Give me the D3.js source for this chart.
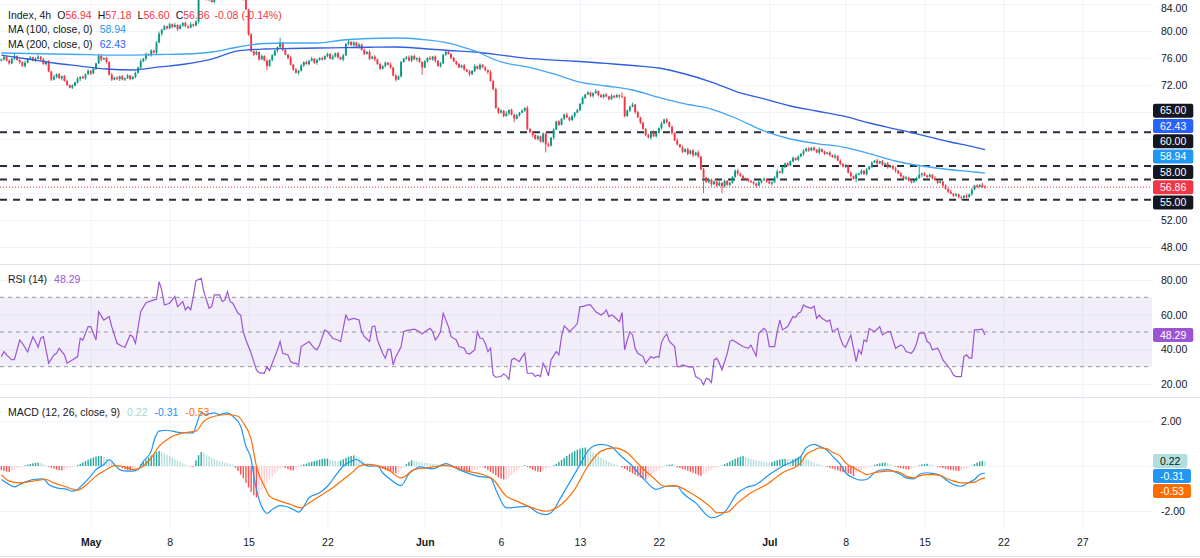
<!DOCTYPE html>
<html>
<head>
<meta charset="utf-8">
<script src="https://cdn.jsdelivr.net/npm/d3@7"></script>
<style>
  body { margin: 0; background: #fff; overflow: hidden; }
  svg { display: block; font-family: "Liberation Sans", Arial, sans-serif; }
</style>
</head>
<body>
<svg width="1200" height="558"></svg>
<script>
// ---- data (4h bars, index 0 = first bar on screen) ----
const firstOpen = 75.6;
const closeRuns = [
  [0,   [75.8,76.2,75.6,75.2,75.9,76.3,75.7,75.4,74.8,75.3,75.9,76.1,75.6,75.9,76.2,75.8,75.1,75.5]],
  [18,  [74.0,72.8,73.2,73.6,73.0,73.3,72.6,72.0,71.6,71.9,72.4,72.9,73.2,73.0,73.6,74.1,73.7]],
  [35,  [74.4,75.2,76.3,75.8,76.0,75.4,73.5,72.8,73.1,72.9,73.3,72.8,73.0,73.4,72.9,73.2]],
  [51,  [73.8,74.6,75.5,75.9,76.6,76.4,77.1,76.8,78.3,79.6]],
  [61,  [80.2,80.7,80.4,81.0,80.6,80.9,80.3,80.8,81.2,80.7,80.5,81.0,80.8,81.4]],
  [75,  [85.2,85.8,85.5,84.6,84.9,84.3,85.1,85.9,86.4,86.0,86.8,86.3,85.7,86.2,85.5,85.0,84.7,84.9,83.2]],
  [94,  [79.5,77.0,76.5,76.9,75.8,76.3,75.6,74.8,75.7,76.4,77.1,77.6,78.3]],
  [107, [77.2,76.5,76.0,75.0,74.3,73.8,74.1,74.9,75.4,75.1,75.6,75.9,75.3,75.7,76.0]],
  [122, [75.8,76.3,76.6,75.9,76.2,76.7,76.1,75.8,76.4,78.1,78.4,77.9,78.3,77.7,78.0,77.2,76.6,76.9,75.9]],
  [141, [76.2,75.8,75.1,74.4,74.8,75.3,75.0,74.6,73.4,72.8,73.3,75.4]],
  [153, [75.9,76.1,75.6,76.3,75.8,76.0,75.4,74.6,75.5,76.0,75.8,76.2,75.6,74.8,75.2,76.5,76.9,76.6,76.0,75.5,
         75.1,74.6,74.9,74.3,74.0,73.6,74.1,74.8,74.4,75.0,74.6,74.2,73.9,72.6,71.4]],
  [188, [68.6,67.9,68.2,67.4,67.8,68.3,67.6,67.0,67.5,67.9,68.2,68.6,65.5,65.0,64.6,64.0,64.4,63.6,64.8,63.2,63.0]],
  [209, [64.2,65.4,66.6,66.1,67.0,67.6,67.2,66.8,67.4,67.9,68.3,69.2,70.1,70.6]],
  [223, [70.9,70.4,70.8,71.1,70.5,70.2,70.6,70.3,69.9,70.4,70.2,70.5,70.3,70.2,67.4]],
  [238, [68.2,68.8,69.1,68.0,67.2,66.4]],
  [244, [65.5,64.6,64.2,65.0,64.4,64.9,65.6]],
  [251, [66.3,66.9,66.5,65.8]],
  [255, [64.9,63.8,63.2,62.8]],
  [259, [62.1,62.5,61.8,62.3,61.6,62.0,61.4]],
  [266, [59.5,58.3,57.6,58.0,57.3,57.7,57.1]],
  [273, [57.5,57.0,57.8,57.2,57.5]],
  [278, [58.4,59.3,58.9,58.5,58.2]],
  [283, [58.0,57.8,57.6,57.4,57.1,57.6,57.9,58.1,57.7,57.4,57.6]],
  [294, [58.3,59.2,59.0,59.8,60.4,60.1,60.7,61.2,60.9,61.4]],
  [304, [61.8,62.2,62.6,62.3,62.7,62.4,62.0,62.5]],
  [312, [62.1,61.8,62.0,61.6,61.3,61.5]],
  [318, [60.8,60.3,59.9,60.1]],
  [322, [59.0,58.5,58.1,58.7]],
  [326, [58.9,59.3,58.8,59.5,59.9]],
  [331, [60.5,60.8,60.4,60.7]],
  [335, [60.2,60.4,59.8,60.0,59.6,59.3]],
  [341, [58.9,58.5,58.1,58.3,57.8,57.6]],
  [347, [57.9,58.2,58.7]],
  [350, [58.9,58.6,58.4,58.7,58.2]],
  [355, [57.9,57.5,57.7,57.1]],
  [359, [56.6,56.2,55.9,55.6,55.8,55.4]],
  [365, [55.3,55.6,55.4,55.8]],
  [369, [56.5,57.1,56.9,57.2,56.94,56.86]]
];
// wick lengths above/below the body, tenths of a point, one base-36 char per bar
const wickHi = [
  "12121 41213 12123 12121 31212", "21213 12121 21321 21312 12121", "12131 21212 31212 13121 21312",
  "21312 12121 31212 12131 21212", "12121 17121 31212 12131 21212", "13121 21312 12121 31212 12131",
  "21212 31212 12131 21212 31212", "12121 31212 13121 21312 12121", "31212 12131 21212 31212 12121",
  "13121 21312 16121 31212 12131", "13121 21312 12121 31212 12131", "21212 31212 12131 21212 31212",
  "12121 31212 13121 21312 12121", "31212 12131 21212 31212 1212f", "12121 31212 13121 21312 12132"
];
const wickLo = [
  "12121 21312 12121 31212 12131", "21212 31212 12131 21212 31212", "12121 31212 13121 21312 12121",
  "31212 12131 21212 31212 12121", "16121 31212 12131 21212 31212", "12121 31212 13121 21312 12121",
  "31212 12131 b1212 31212 12121", "12131 21212 31212 12131 51212", "21312 12c21 31212 12131 21212",
  "31212 12121 31212 13121 21312", "12121 31212 12131 21n12 3121a", "21212 31212 12312 12131 21212",
  "12121 31212 13121 21312 12121", "51212 12131 21212 31212 12121", "31212 12131 21212 31212 12123"
];
const lastBar = { o: 56.94, h: 57.18, l: 56.60, c: 56.86, chg: -0.08, pct: -0.14 };

// moving averages, one value every 10 bars plus the last bar
const maBars = d3.range(0, 371, 10).concat([374]);
const ma100 = [76.74,76.67,76.59,76.52,76.44,76.44,76.52,76.59,76.89,77.63,78.15,78.22,78.22,78.67,78.89,78.96,
  78.74,78.22,77.04,75.41,74.67,73.63,72.44,71.85,71.26,70.15,69.19,68.44,66.96,65.19,64.00,63.33,62.81,61.85,
  60.74,60.00,59.48,59.11,58.94];
const ma200 = [76.44,75.85,75.26,74.81,74.37,74.22,74.67,75.11,75.85,77.04,77.33,77.41,77.48,77.53,77.59,77.63,
  77.41,77.11,76.89,76.44,75.93,75.70,75.48,75.19,74.89,74.52,73.63,72.44,70.96,69.93,68.89,68.15,67.41,66.37,
  65.48,64.59,63.63,62.81,62.43];

const priceLevels = [65, 60, 58, 55];

// RSI (14): [bar, value]
const rsiPts = [[0,35.8],[1,38.7],[2,36.8],[4,33.9],[5,34.3],[6,39.7],[7,45.4],[8,43.5],[10,38.5],[12,47.3],[13,44.5],
  [14,41.2],[15,46.4],[16,47.3],[17,39.7],[18,32.0],[20,36.8],[21,37.7],[22,40.6],[24,36.8],[25,32.0],[27,33.9],
  [29,35.8],[30,46.4],[31,45.4],[33,53.1],[34,53.1],[36,45.4],[37,61.7],[39,56.9],[41,58.9],[42,53.1],[44,43.5],
  [46,41.6],[47,41.2],[49,48.3],[50,47.3],[51,43.5],[53,61.7],[55,66.9],[58,68.5],[59,68.9],[60,79.0],[61,74.2],
  [62,65.6],[64,66.6],[66,70.4],[67,64.6],[69,67.5],[70,62.7],[71,64.6],[72,62.7],[73,70.4],[74,79.6],[76,81.0],
  [77,73.3],[79,63.7],[80,64.6],[81,71.4],[83,71.4],[84,67.5],[85,68.5],[86,73.3],[87,67.5],[88,66.6],[90,60.8],
  [91,59.8],[92,50.2],[93,45.4],[95,37.7],[96,32.9],[97,28.1],[98,26.6],[100,26.2],[101,30.0],[102,27.7],[103,32.0],
  [105,39.7],[106,44.5],[107,37.7],[109,36.8],[110,32.9],[111,32.0],[112,32.0],[113,31.0],[114,41.6],[116,43.5],
  [117,44.5],[119,40.6],[120,39.7],[121,42.5],[123,51.2],[124,50.2],[126,46.4],[128,45.4],[129,44.5],[131,59.8],
  [132,56.9],[134,57.9],[136,56.9],[137,50.2],[138,47.3],[140,44.5],[141,53.1],[142,53.5],[143,45.4],[145,37.7],
  [146,34.9],[147,40.0],[148,40.0],[149,31.0],[150,35.8],[152,41.5],[153,50.2],[154,50.8],[157,51.6],[159,50.2],
  [160,48.9],[161,50.2],[163,52.1],[164,50.2],[165,45.4],[166,47.3],[167,50.2],[168,60.8],[170,53.1],[171,47.3],
  [173,45.4],[174,41.6],[176,40.6],[177,37.7],[178,37.3],[180,39.7],[181,50.2],[182,46.4],[183,46.4],[184,43.5],
  [185,38.7],[186,40.6],[187,25.2],[188,23.9],[190,24.3],[191,25.8],[192,24.7],[193,22.7],[194,33.9],[195,34.9],
  [197,32.9],[198,35.8],[199,37.7],[200,26.2],[202,26.2],[203,24.3],[204,25.2],[205,24.3],[206,32.0],[207,29.1],
  [208,24.7],[209,33.9],[211,38.7],[212,36.8],[213,47.3],[214,53.5],[215,52.1],[216,50.2],[218,53.1],[219,55.0],
  [220,64.6],[221,64.6],[223,65.6],[224,65.6],[225,63.7],[226,61.7],[228,59.8],[229,60.8],[230,62.7],[231,58.9],
  [232,59.8],[233,58.9],[235,56.0],[236,61.2],[237,39.7],[238,45.4],[239,50.2],[240,48.3],[241,40.6],[242,37.7],
  [244,35.8],[245,32.0],[246,33.9],[247,35.8],[248,34.9],[249,35.8],[250,35.4],[251,43.9],[252,47.0],[253,48.9],
  [254,44.5],[256,41.6],[257,30.0],[258,30.0],[259,31.0],[261,30.0],[262,29.7],[263,30.0],[264,24.3],[266,22.4],
  [267,19.5],[268,23.3],[269,22.7],[270,20.8],[271,33.9],[272,34.9],[273,32.0],[274,28.1],[276,37.7],[277,44.5],
  [278,45.4],[280,43.5],[281,42.5],[282,41.6],[284,40.6],[285,42.5],[287,36.2],[288,49.3],[290,52.1],[291,50.2],
  [292,41.6],[294,41.6],[295,50.2],[296,56.9],[297,51.2],[299,53.1],[300,56.0],[301,58.9],[302,58.5],[303,60.8],
  [304,61.7],[305,65.6],[306,64.6],[308,63.7],[309,65.0],[310,57.9],[311,59.8],[312,57.9],[314,56.0],[315,56.9],
  [316,50.2],[318,52.1],[319,46.4],[320,42.5],[321,41.2],[323,48.3],[324,40.6],[325,32.9],[326,39.7],[327,37.3],
  [328,45.4],[329,44.5],[330,52.1],[332,50.2],[334,53.1],[335,48.3],[337,50.2],[338,50.2],[339,45.4],[340,40.6],
  [342,42.5],[343,41.6],[344,38.7],[346,37.7],[347,39.7],[348,43.5],[349,49.3],[351,49.3],[352,44.5],[353,43.5],
  [354,39.7],[356,40.6],[357,37.7],[358,33.9],[359,32.0],[361,28.1],[362,25.2],[363,24.3],[365,24.3],[366,35.8],
  [367,36.8],[368,34.9],[369,34.9],[370,51.2],[371,51.2],[373,51.6],[374,48.29]];

// MACD (12, 26, close, 9)
const macdPts = [[0,-0.60],[2,-0.75],[5,-0.93],[7,-0.82],[10,-0.67],[12,-0.60],[16,-0.57],[18,-0.82],[21,-0.97],
  [25,-1.04],[27,-1.12],[29,-1.04],[31,-0.82],[34,-0.45],[36,-0.16],[39,0.07],[41,0.29],[43,0.07],[45,-0.16],
  [48,-0.23],[50,-0.23],[52,-0.16],[54,0.21],[57,0.66],[58,1.10],[60,1.55],[63,1.59],[65,1.55],[69,1.47],[73,1.47],
  [74,1.77],[76,2.36],[78,2.29],[81,2.36],[83,2.29],[86,2.36],[88,2.21],[91,1.77],[93,0.88],[95,0.29],[96,-0.45],
  [98,-1.49],[100,-2.01],[101,-2.11],[103,-1.93],[106,-1.76],[108,-1.79],[111,-1.93],[113,-2.05],[115,-1.79],
  [117,-1.41],[121,-1.19],[124,-0.90],[126,-0.60],[130,-0.01],[133,0.21],[135,0.29],[138,0.07],[140,-0.01],
  [143,0.02],[145,-0.30],[148,-0.60],[152,-0.87],[155,-0.35],[157,-0.16],[159,-0.04],[164,-0.13],[169,0.11],
  [174,-0.16],[181,-0.45],[186,-0.53],[188,-1.04],[192,-1.86],[200,-1.79],[204,-2.08],[207,-2.16],[210,-1.96],
  [212,-1.55],[215,-0.95],[218,-0.35],[220,0.05],[223,0.66],[225,0.88],[228,0.96],[232,0.85],[235,0.51],[240,-0.01],
  [245,-0.67],[249,-1.04],[253,-0.90],[257,-0.90],[259,-1.19],[264,-1.64],[270,-2.30],[275,-2.05],[280,-1.19],
  [283,-0.97],[287,-0.82],[292,-0.38],[297,-0.01],[304,0.44],[306,0.81],[309,0.96],[311,0.88],[314,0.70],[316,0.44],
  [319,0.07],[321,-0.30],[324,-0.53],[327,-0.63],[329,-0.60],[332,-0.30],[334,-0.19],[337,-0.16],[339,-0.23],
  [342,-0.38],[344,-0.53],[347,-0.57],[349,-0.38],[352,-0.30],[354,-0.33],[357,-0.42],[359,-0.60],[362,-0.82],
  [365,-0.90],[367,-0.78],[370,-0.60],[372,-0.38],[374,-0.31]];
const signalPts = [[0,-0.38],[3,-0.67],[7,-0.75],[12,-0.67],[17,-0.60],[20,-0.75],[24,-0.90],[29,-1.07],[32,-0.87],
  [36,-0.45],[40,-0.16],[43,0.02],[46,-0.01],[50,-0.16],[53,-0.08],[57,0.36],[60,0.88],[64,1.25],[69,1.47],[74,1.55],
  [77,1.99],[81,2.21],[86,2.29],[90,2.21],[92,1.92],[95,1.18],[97,-0.01],[100,-0.90],[102,-1.34],[106,-1.56],
  [110,-1.71],[114,-1.86],[117,-1.64],[121,-1.34],[126,-0.97],[130,-0.60],[134,-0.23],[136,-0.01],[139,0.07],
  [143,0.02],[147,-0.16],[152,-0.53],[157,-0.16],[162,-0.08],[169,0.02],[177,-0.23],[183,-0.38],[187,-0.60],
  [192,-1.34],[196,-1.56],[202,-1.86],[207,-2.01],[212,-1.79],[218,-1.04],[223,-0.01],[228,0.66],[233,0.81],
  [238,0.59],[243,-0.01],[248,-0.53],[252,-0.90],[256,-0.87],[261,-1.12],[266,-1.49],[270,-1.86],[272,-2.08],
  [276,-2.05],[280,-1.64],[285,-1.19],[291,-0.82],[297,-0.30],[304,0.14],[306,0.51],[309,0.70],[311,0.81],
  [314,0.76],[316,0.61],[319,0.44],[321,0.14],[324,-0.08],[327,-0.27],[329,-0.38],[332,-0.30],[334,-0.26],
  [337,-0.23],[339,-0.23],[342,-0.30],[344,-0.45],[347,-0.53],[349,-0.45],[352,-0.38],[354,-0.38],[357,-0.42],
  [359,-0.53],[362,-0.67],[365,-0.75],[367,-0.75],[370,-0.72],[372,-0.60],[374,-0.53]];
const histRuns = [
  [0,   [-0.18,-0.22,-0.25,-0.27,-0.22,-0.16,-0.10,-0.05,-0.02]],
  [9,   [0.03,0.06,0.09,0.12,0.14,0.15,0.12,0.08,0.04]],
  [18,  [-0.03,-0.08,-0.12,-0.16,-0.19,-0.20,-0.16,-0.12,-0.08,-0.05,-0.02]],
  [29,  [0.05,0.10,0.16,0.22,0.28,0.33,0.38,0.42,0.44,0.45,0.40,0.34,0.27,0.19,0.11,0.04]],
  [45,  [-0.04,-0.10,-0.15,-0.19,-0.20,-0.16,-0.10,-0.04]],
  [53,  [0.08,0.18,0.28,0.38,0.47,0.55,0.62,0.67,0.63,0.57,0.50,0.44,0.37,0.30,0.24,0.18,0.12,0.07,0.03]],
  [72,  [-0.02,-0.04]],
  [74,  [0.25,0.48,0.62,0.58,0.50,0.43,0.37,0.31,0.26,0.22,0.18,0.15,0.12,0.10,0.06]],
  [89,  [-0.08,-0.22,-0.38,-0.55,-0.75,-0.95,-1.15,-1.30,-1.40,-1.25,-1.08,-0.92,-0.76,-0.60,-0.46,-0.34,-0.22,-0.12,-0.05]],
  [108, [-0.08,-0.14,-0.19,-0.20,-0.15,-0.08]],
  [114, [0.03,0.07,0.11,0.15,0.19,0.22,0.25,0.28,0.31,0.33,0.33,0.28,0.24,0.22,0.21,0.24,0.30,0.36,0.41,0.45,0.47,0.44,0.38,0.28,0.18,0.10,0.04,0.01]],
  [142, [-0.01,-0.03,-0.08,-0.13,-0.18,-0.22,-0.26,-0.30,-0.33,-0.26,-0.16,-0.07]],
  [154, [0.08,0.18,0.25,0.23,0.20,0.18,0.16,0.14,0.12,0.11,0.10,0.09,0.08,0.07,0.06,0.05,0.03,0.01]],
  [172, [-0.04,-0.08,-0.12,-0.16,-0.20,-0.23,-0.25,-0.22,-0.18,-0.14,-0.10,-0.08,-0.10,-0.18,-0.26,-0.34,-0.42,-0.50,-0.56,-0.60,-0.58,-0.50,-0.40,-0.30,-0.20,-0.10,-0.03]],
  [199, [0.03]],
  [200, [-0.04,-0.10,-0.16,-0.21,-0.25,-0.27,-0.22,-0.15,-0.08,-0.02]],
  [210, [0.04,0.10,0.18,0.27,0.36,0.45,0.53,0.60,0.66,0.72,0.77,0.81,0.82,0.75,0.68,0.60,0.52,0.45,0.38,0.31,0.25,0.19,0.14,0.09,0.05,0.01]],
  [236, [-0.06,-0.12,-0.19,-0.26,-0.33,-0.40,-0.46,-0.52,-0.58,-0.60,-0.50,-0.40,-0.30,-0.21,-0.13,-0.06,-0.02]],
  [253, [0.03,0.06,0.07,0.03]],
  [257, [-0.05,-0.09,-0.13,-0.17,-0.21,-0.26,-0.30,-0.35,-0.40,-0.44,-0.36,-0.29,-0.22,-0.16,-0.10,-0.05,-0.02]],
  [274, [0.02,0.08,0.14,0.20,0.26,0.32,0.37,0.41,0.44,0.40,0.35,0.31,0.28,0.26,0.23,0.20,0.18,0.16,0.15,0.17,
         0.22,0.26,0.29,0.31,0.32,0.30,0.28,0.30,0.34,0.40,0.44,0.40,0.34,0.28,0.22,0.16,0.11,0.07,0.03]],
  [313, [0.00]],
  [314, [-0.04,-0.08,-0.12,-0.16,-0.20,-0.24,-0.27,-0.30,-0.33,-0.36,-0.45,-0.30,-0.23,-0.17,-0.12,-0.07,-0.03]],
  [331, [0.01,0.05,0.09,0.12,0.14,0.15,0.13,0.09,0.04]],
  [340, [-0.03,-0.07,-0.10,-0.12,-0.14,-0.15,-0.12,-0.08,-0.03]],
  [349, [0.03,0.07,0.09,0.10,0.08,0.05,0.01]],
  [356, [-0.03,-0.06,-0.09,-0.12,-0.15,-0.17,-0.19,-0.21,-0.22,-0.20,-0.15,-0.10,-0.05]],
  [369, [0.02,0.09,0.15,0.20,0.23,0.22]]
];

// time axis
const tickBars = [34, 64, 94, 124, 161, 190, 220, 250, 292, 321, 351, 381, 411];
const tickLabels = ["May", "8", "15", "22", "Jun", "6", "13", "22", "Jul", "8", "15", "22", "27"];
const monthNames = ["May", "Jun", "Jul"];

const priceTicks = [84, 80, 76, 72, 52, 48];
const priceGrid = [48, 52, 56, 60, 64, 68, 72, 76, 80, 84];
const rsiTicks = [80, 60, 40, 20];
const macdTicks = [2, -2];

// ---- colours ----
const UP = "#089981", DOWN = "#f23645", TEXT = "#131722", GRID = "#f0f3fa", BORDER = "#e0e3eb";
const MA100C = "#42a5f5", MA200C = "#2f5fe0", RSIC = "#9c55d2";
const MACDC = "#2196f3", SIGC = "#ff6d00";
const FONT = "10.5px";

// ---- build series ----
function fromRuns(runs) {
  const out = [];
  runs.forEach(([s, vals]) => vals.forEach((v, k) => { out[s + k] = v; }));
  return out;
}
const decode = arr => arr.join("").replace(/\s/g, "").split("").map(ch => parseInt(ch, 36) / 10);

const closes = fromRuns(closeRuns);
const hiW = decode(wickHi);
const loW = decode(wickLo);
const candles = closes.map((c, i) => {
  const o = i ? closes[i - 1] : firstOpen;
  return { i, o, c, h: Math.max(o, c) + hiW[i], l: Math.min(o, c) - loW[i] };
});
const lastI = candles.length - 1;
candles[lastI].h = lastBar.h;
candles[lastI].l = lastBar.l;
const hist = fromRuns(histRuns);

// ---- layout ----
const svg = d3.select("svg");
const plotW = 1152;
const x = d3.scaleLinear().domain([-0.5, 437.5]).range([0, plotW]);
const yP = d3.scaleLinear().domain([52, 80]).range([220, 31]);
const yR = d3.scaleLinear().domain([20, 80]).range([384, 280]);
const yM = d3.scaleLinear().domain([-2, 2]).range([511, 421]);

const defs = svg.append("defs");
[["clipMain", 0, 263], ["clipRsi", 265, 131], ["clipMacd", 398, 132]].forEach(([id, y0, h]) => {
  defs.append("clipPath").attr("id", id)
    .append("rect").attr("x", 0).attr("y", y0).attr("width", plotW).attr("height", h);
});

// horizontal grids
function hGrid(scale, values) {
  const g = svg.append("g")
    .attr("transform", `translate(${plotW},0)`)
    .call(d3.axisRight(scale).tickValues(values).tickSize(-plotW).tickFormat(""));
  g.select(".domain").remove();
  g.selectAll("line").attr("stroke", GRID);
}
hGrid(yP, priceGrid);
hGrid(yR, rsiTicks);
hGrid(yM, [2, 0, -2]);

// vertical grid
const vg = svg.append("g")
  .attr("transform", "translate(0,530)")
  .call(d3.axisBottom(x).tickValues(tickBars).tickSize(-530).tickFormat(""));
vg.select(".domain").remove();
vg.selectAll("line").attr("stroke", GRID);

// panel separators
[264, 397, 556].forEach(yy => {
  svg.append("line").attr("x1", 0).attr("x2", 1200).attr("y1", yy + 0.5).attr("y2", yy + 0.5)
    .attr("stroke", BORDER);
});

// ---- main panel ----
const main = svg.append("g").attr("clip-path", "url(#clipMain)");

const levels = main.append("g");
levels.selectAll("line")
  .data(priceLevels)
  .enter()
  .append("line")
  .attr("x1", 0).attr("x2", plotW)
  .attr("y1", d => yP(d)).attr("y2", d => yP(d))
  .attr("stroke", "#2a2e39")
  .attr("stroke-width", 2)
  .attr("stroke-dasharray", "7,6");

main.selectAll(".wick")
  .data(candles)
  .enter()
  .append("line")
  .attr("class", "wick")
  .attr("x1", d => x(d.i)).attr("x2", d => x(d.i))
  .attr("y1", d => yP(d.h)).attr("y2", d => yP(d.l))
  .attr("stroke", d => d.c >= d.o ? UP : DOWN)
  .attr("stroke-width", 0.9);

main.selectAll(".body")
  .data(candles)
  .enter()
  .append("rect")
  .attr("class", "body")
  .attr("x", d => x(d.i) - 0.95)
  .attr("width", 1.9)
  .attr("y", d => yP(Math.max(d.o, d.c)))
  .attr("height", d => Math.max(0.8, Math.abs(yP(d.o) - yP(d.c))))
  .attr("fill", d => d.c >= d.o ? UP : DOWN);

const maLine = d3.line().x(d => x(d[0])).y(d => yP(d[1])).curve(d3.curveMonotoneX);
main.append("path")
  .datum(maBars.map((b, k) => [b, ma200[k]]))
  .attr("d", maLine).attr("fill", "none").attr("stroke", MA200C).attr("stroke-width", 1.3);
main.append("path")
  .datum(maBars.map((b, k) => [b, ma100[k]]))
  .attr("d", maLine).attr("fill", "none").attr("stroke", MA100C).attr("stroke-width", 1.3);

main.append("line")
  .attr("x1", 0).attr("x2", plotW)
  .attr("y1", yP(lastBar.c)).attr("y2", yP(lastBar.c))
  .attr("stroke", DOWN).attr("stroke-width", 1).attr("stroke-dasharray", "1,2");

// ---- RSI panel ----
const rsiG = svg.append("g").attr("clip-path", "url(#clipRsi)");
rsiG.append("rect")
  .attr("x", 0).attr("width", plotW)
  .attr("y", yR(70)).attr("height", yR(30) - yR(70))
  .attr("fill", "rgba(126,87,194,0.1)");
rsiG.selectAll(".band")
  .data([70, 50, 30])
  .enter()
  .append("line")
  .attr("class", "band")
  .attr("x1", 0).attr("x2", plotW)
  .attr("y1", d => yR(d)).attr("y2", d => yR(d))
  .attr("stroke", "#9598a1").attr("stroke-dasharray", "4,4");
rsiG.append("path")
  .datum(rsiPts)
  .attr("d", d3.line().x(d => x(d[0])).y(d => yR(d[1])))
  .attr("fill", "none").attr("stroke", RSIC).attr("stroke-width", 1.2);

// ---- MACD panel ----
const macdG = svg.append("g").attr("clip-path", "url(#clipMacd)");
macdG.selectAll(".hbar")
  .data(hist)
  .enter()
  .append("rect")
  .attr("class", "hbar")
  .attr("x", (d, i) => x(i) - 0.7)
  .attr("width", 1.4)
  .attr("y", d => Math.min(yM(d), yM(0)))
  .attr("height", d => Math.abs(yM(d) - yM(0)))
  .attr("fill", (d, i) => {
    const prev = i ? hist[i - 1] : d;
    if (d >= 0) return d >= prev ? "#26a69a" : "#b2dfdb";
    return d <= prev ? "#ff5252" : "#ffcdd2";
  });
const mLine = d3.line().x(d => x(d[0])).y(d => yM(d[1])).curve(d3.curveMonotoneX);
macdG.append("path").datum(macdPts).attr("d", mLine)
  .attr("fill", "none").attr("stroke", MACDC).attr("stroke-width", 1.2);
macdG.append("path").datum(signalPts).attr("d", mLine)
  .attr("fill", "none").attr("stroke", SIGC).attr("stroke-width", 1.2);

// ---- right axes ----
function rightAxis(scale, values) {
  const g = svg.append("g")
    .attr("transform", `translate(${plotW},0)`)
    .call(d3.axisRight(scale).tickValues(values).tickSize(0).tickPadding(9).tickFormat(v => v.toFixed(2)));
  g.select(".domain").remove();
  g.attr("font-family", null).attr("font-size", FONT);
  g.selectAll("text").attr("fill", TEXT);
  return g;
}
const priceAxis = rightAxis(yP, priceTicks);
// keep the top label inside the picture
priceAxis.selectAll(".tick")
  .filter(d => scaleTop(d))
  .select("text").attr("dy", "0.75em");
function scaleTop(v) { return yP(v) < 8; }
rightAxis(yR, rsiTicks);
rightAxis(yM, macdTicks);

// time axis labels
const tg = svg.append("g")
  .attr("transform", "translate(0,532)")
  .call(d3.axisBottom(x).tickValues(tickBars).tickSize(0).tickPadding(7)
    .tickFormat((d, k) => tickLabels[k]));
tg.select(".domain").remove();
tg.attr("font-family", null).attr("font-size", FONT);
tg.selectAll("text")
  .attr("fill", TEXT)
  .attr("font-weight", (d, k) => monthNames.includes(tickLabels[k]) ? "bold" : null);

// ---- value boxes on the right scale ----
function valueBoxes(items, scale, gap) {
  items.forEach(d => { d.ty = scale(d.v); });
  items.sort((a, b) => a.ty - b.ty);
  const k = items.findIndex(d => d.anchor);
  items[k].y = items[k].ty;
  for (let j = k - 1; j >= 0; j--) items[j].y = Math.min(items[j].ty, items[j + 1].y - gap);
  for (let j = k + 1; j < items.length; j++) items[j].y = Math.max(items[j].ty, items[j - 1].y + gap);
  items.forEach(d => {
    const g = svg.append("g");
    const t = g.append("text")
      .attr("x", plotW + 8).attr("y", d.y).attr("dy", "0.35em")
      .attr("font-size", FONT).attr("fill", d.fg || "#fff")
      .text(d.v.toFixed(2));
    const w = t.node().getComputedTextLength();
    g.insert("rect", "text")
      .attr("x", plotW + 1).attr("y", d.y - 7)
      .attr("width", w + 14).attr("height", 14).attr("rx", 2)
      .attr("fill", d.bg);
  });
}
valueBoxes([
  { v: 65, bg: TEXT }, { v: ma200[ma200.length - 1], bg: "#2962ff" }, { v: 60, bg: TEXT },
  { v: ma100[ma100.length - 1], bg: "#2196f3" }, { v: 58, bg: TEXT },
  { v: lastBar.c, bg: DOWN, anchor: true }, { v: 55, bg: TEXT }
], yP, 15.3);
valueBoxes([{ v: rsiPts[rsiPts.length - 1][1], bg: RSIC, anchor: true }], yR, 15);
valueBoxes([
  { v: hist[hist.length - 1], bg: "#b2dfdb", fg: TEXT, anchor: true },
  { v: macdPts[macdPts.length - 1][1], bg: MACDC },
  { v: signalPts[signalPts.length - 1][1], bg: SIGC }
], yM, 15);

// ---- legends ----
function legend(yy, parts) {
  const t = svg.append("text").attr("x", 8).attr("y", yy).attr("font-size", FONT);
  parts.forEach(p => {
    t.append("tspan").attr("fill", p.c || TEXT).attr("dx", p.dx || 0).text(p.t);
  });
}
const f2 = v => v.toFixed(2);
legend(18.5, [
  { t: "Index, 4h" },
  { t: "O", dx: 6 }, { t: f2(lastBar.o), c: DOWN },
  { t: "H", dx: 6 }, { t: f2(lastBar.h), c: DOWN },
  { t: "L", dx: 6 }, { t: f2(lastBar.l), c: DOWN },
  { t: "C", dx: 6 }, { t: f2(lastBar.c), c: DOWN },
  { t: `${f2(lastBar.chg)} (${f2(lastBar.pct)}%)`, c: DOWN, dx: 5 }
]);
legend(33, [{ t: "MA (100, close, 0)" }, { t: f2(ma100[ma100.length - 1]), c: MACDC, dx: 7 }]);
legend(47.5, [{ t: "MA (200, close, 0)" }, { t: f2(ma200[ma200.length - 1]), c: "#2962ff", dx: 7 }]);
legend(282.5, [{ t: "RSI (14)" }, { t: f2(rsiPts[rsiPts.length - 1][1]), c: RSIC, dx: 7 }]);
legend(416, [
  { t: "MACD (12, 26, close, 9)" },
  { t: f2(hist[hist.length - 1]), c: "#9fd6cf", dx: 7 },
  { t: f2(macdPts[macdPts.length - 1][1]), c: MACDC, dx: 7 },
  { t: f2(signalPts[signalPts.length - 1][1]), c: SIGC, dx: 7 }
]);
</script>
</body>
</html>
